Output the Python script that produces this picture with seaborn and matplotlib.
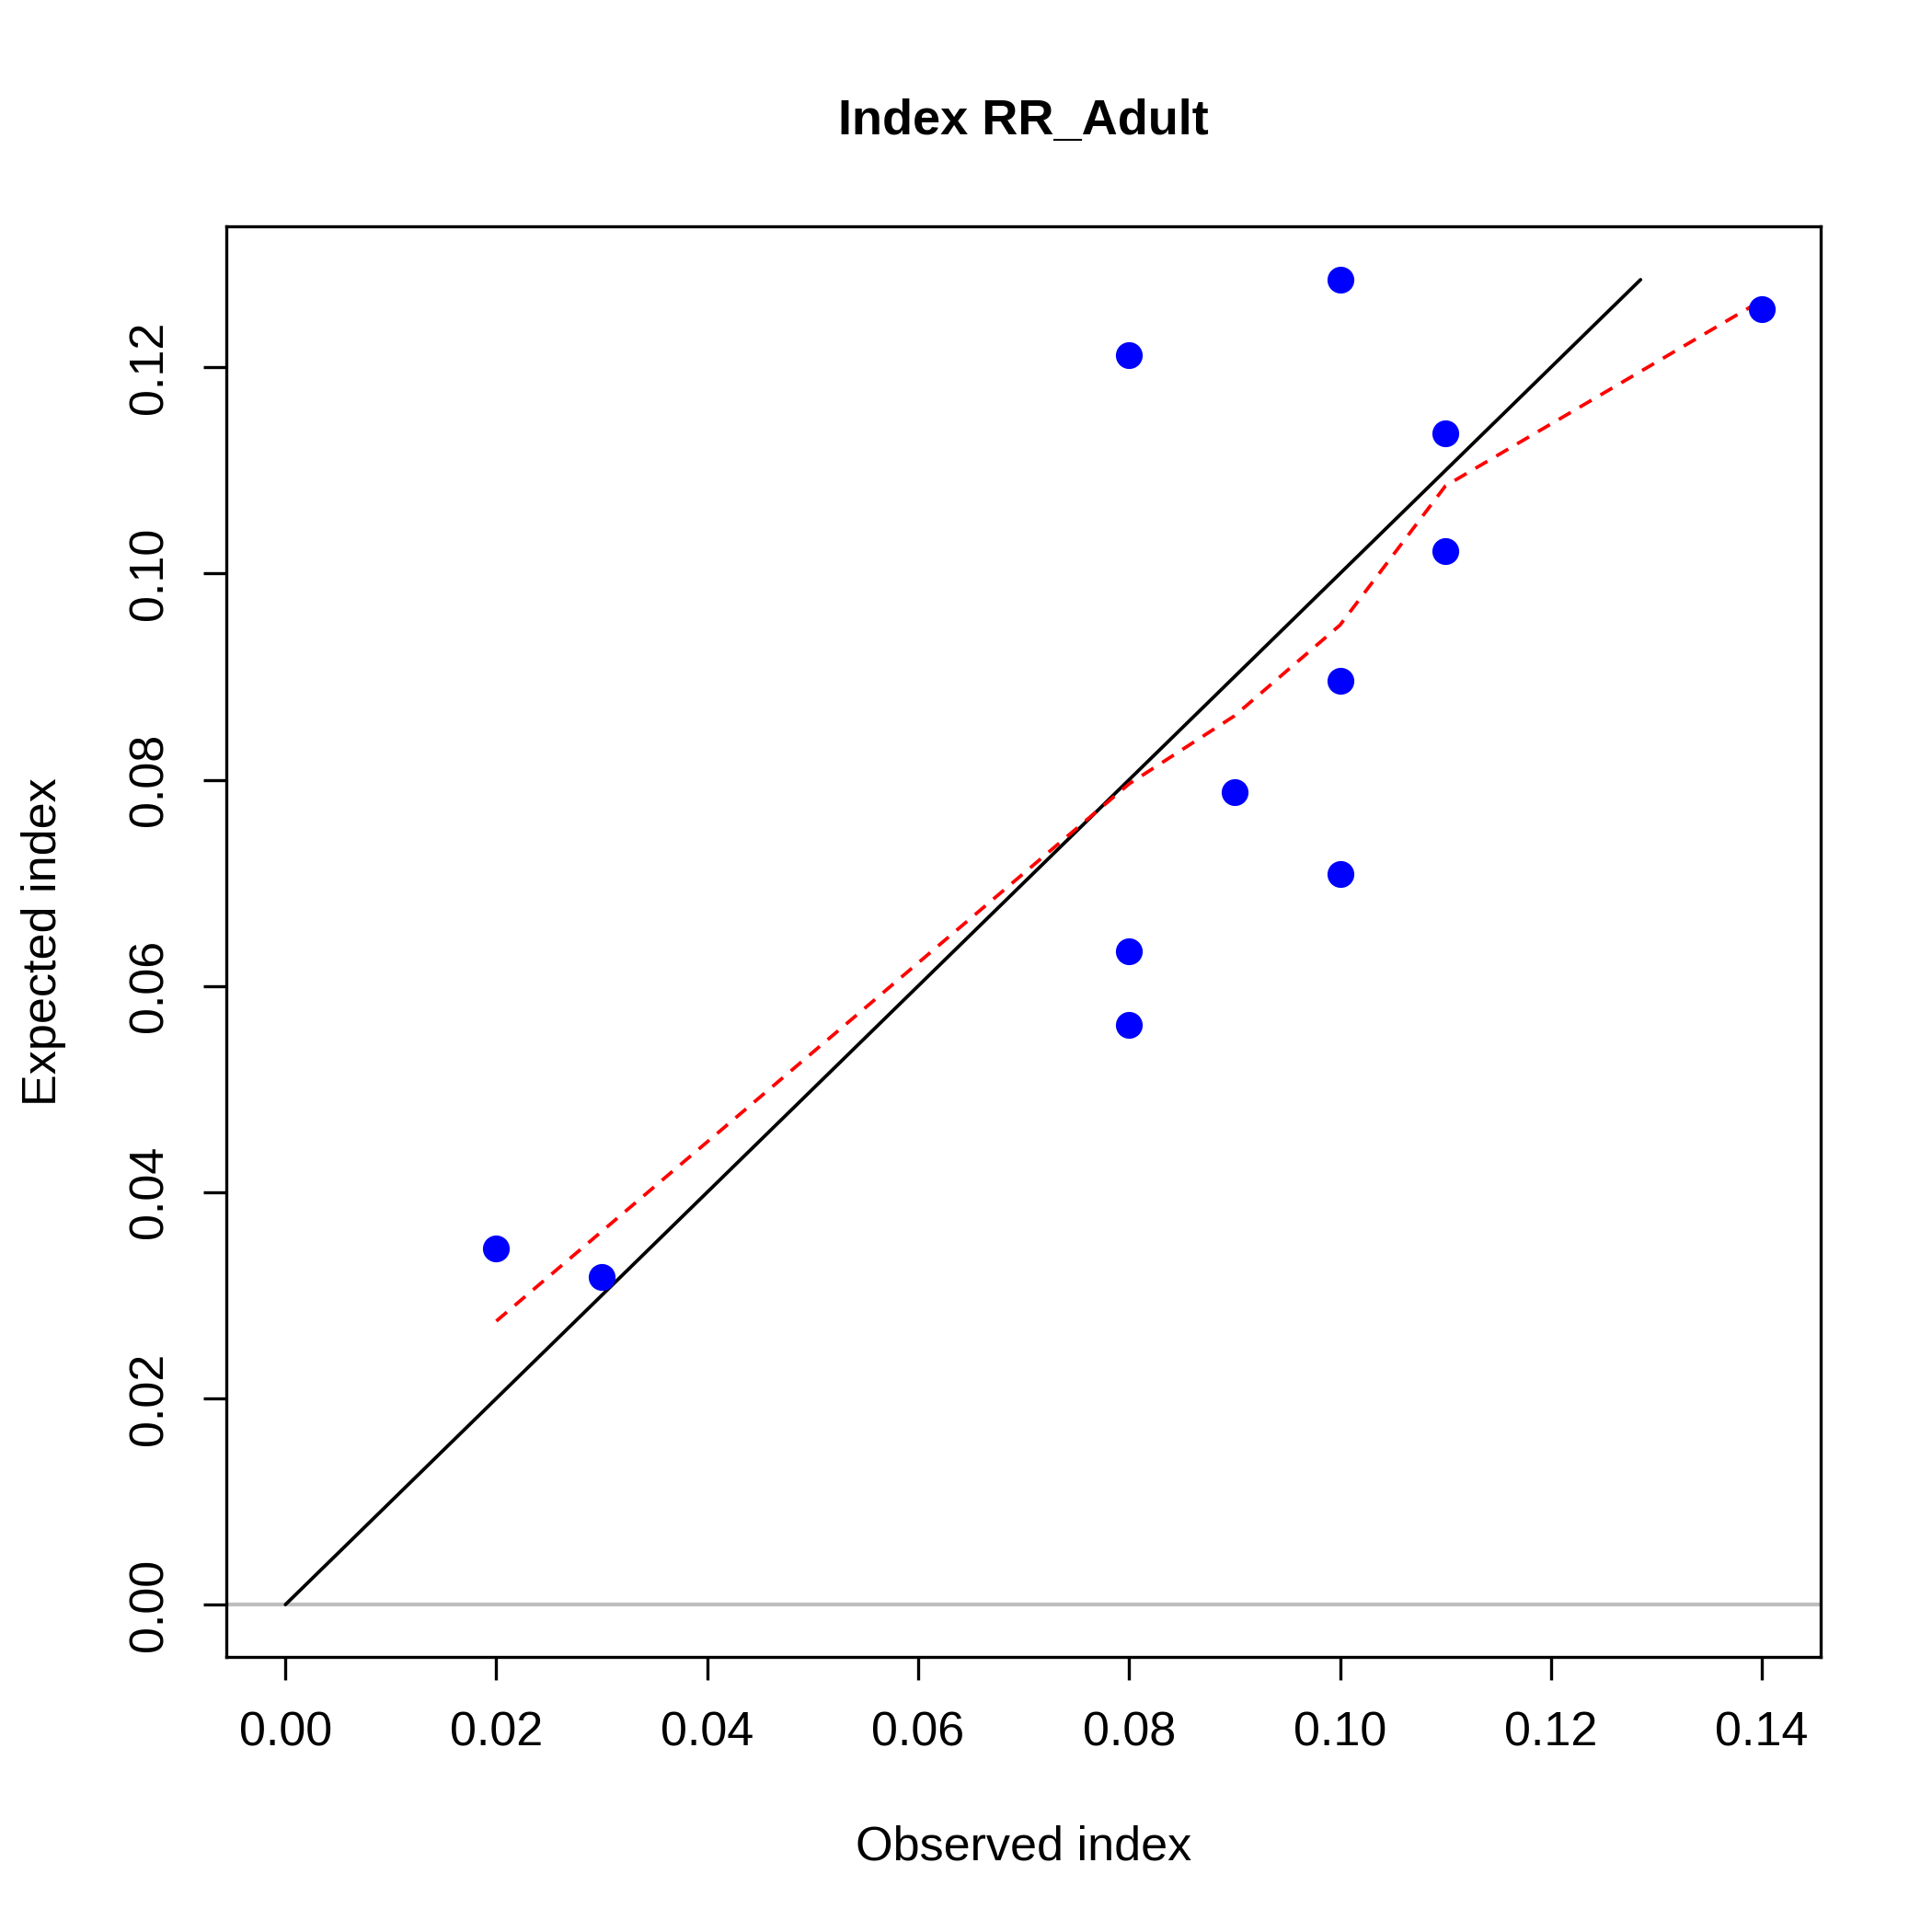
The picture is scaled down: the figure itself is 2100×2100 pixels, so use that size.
import matplotlib
matplotlib.use("Agg")
import matplotlib.pyplot as plt
import seaborn as sns
import pandas as pd

# observed vs expected index values
observed = [0.02, 0.03, 0.08, 0.08, 0.08, 0.09, 0.10, 0.10, 0.10, 0.11, 0.11, 0.14]
expected = [0.0345, 0.0318, 0.1212, 0.0634, 0.0562, 0.0788, 0.1285, 0.0896, 0.0709, 0.1136, 0.1022, 0.1256]

# smoother (red dashed)
smooth_x = [0.02, 0.03, 0.08, 0.09, 0.10, 0.11, 0.14]
smooth_y = [0.0275, 0.0362, 0.0796, 0.0862, 0.0950, 0.1085, 0.1265]

df = pd.DataFrame({"obs": observed, "exp": expected})
sm = pd.DataFrame({"x": smooth_x, "y": smooth_y})

sns.set_style("ticks")
plt.rcParams["font.family"] = ["Liberation Sans", "DejaVu Sans"]
plt.rcParams["text.color"] = "black"
plt.rcParams["axes.labelcolor"] = "black"
plt.rcParams["xtick.color"] = "black"
plt.rcParams["ytick.color"] = "black"
plt.rcParams["axes.edgecolor"] = "black"

fig = plt.figure(figsize=(7, 7), dpi=300)
ax = fig.add_axes([0.117, 0.1425, 0.8255, 0.7405])

ax.axhline(0, color="#bebebe", lw=1)
top = max(expected)
ax.plot([0, top], [0, top], color="black", lw=0.9)
sns.lineplot(data=sm, x="x", y="y", ax=ax, color="red", lw=0.9, linestyle=(0, (4, 3)))
sns.scatterplot(data=df, x="obs", y="exp", ax=ax, color="blue", s=42, edgecolor="blue", zorder=3)

ax.set_xlim(-0.00563, 0.1456)
ax.set_ylim(-0.00505, 0.1337)
ax.set_xticks([0, 0.02, 0.04, 0.06, 0.08, 0.10, 0.12, 0.14])
ax.set_yticks([0, 0.02, 0.04, 0.06, 0.08, 0.10, 0.12])
ax.set_xticklabels([f"{v:.2f}" for v in ax.get_xticks()], fontsize=12.5)
ax.set_yticklabels([f"{v:.2f}" for v in ax.get_yticks()], fontsize=12.5, rotation=90, va="center")
ax.tick_params(length=6, width=0.8, pad=8)
for s in ax.spines.values():
    s.set_linewidth(0.8)
    s.set_visible(True)

ax.set_xlabel("Observed index", fontsize=12.5, labelpad=18)
ax.set_ylabel("Expected index", fontsize=12.5, labelpad=16)
ax.set_title("Index RR_Adult", fontsize=13, fontweight="bold", pad=24)

fig.savefig("out.png", dpi=300)
